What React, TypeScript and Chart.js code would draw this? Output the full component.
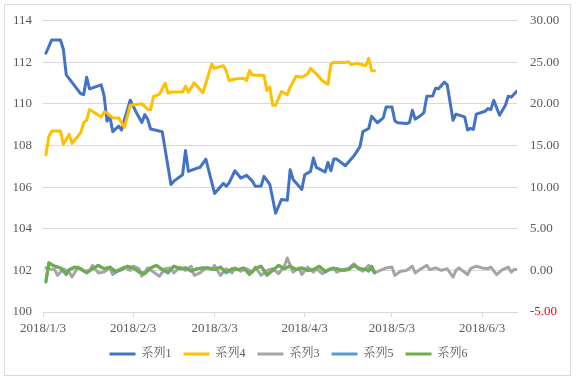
import { useEffect, useRef } from "react";
import { Chart, registerables } from "chart.js";
Chart.register(...registerables);

// x values are day offsets from 2018/1/3
const xTickDays = [0, 31, 59, 90, 120, 151];
const xTickLabels = ["2018/1/3", "2018/2/3", "2018/3/3", "2018/4/3", "2018/5/3", "2018/6/3"];
const xMaxDay = 163;

const leftTicks = [100, 102, 104, 106, 108, 110, 112, 114];
const rightTicks = [-5, 0, 5, 10, 15, 20, 25, 30];

const seriesNames = ["系列1", "系列4", "系列3", "系列5", "系列6"];
const seriesColors = ["#4472C4", "#FFC000", "#A5A5A5", "#5B9BD5", "#70AD47"];

const s1Days = [1, 3, 6, 7, 8, 13, 14, 15, 16, 20, 21, 22, 23, 24, 26, 27, 30, 32, 34, 35, 36, 37, 40, 41, 44, 45, 48, 49, 50, 53, 54, 56, 59, 62, 63, 64, 66, 68, 70, 72, 73, 75, 76, 78, 80, 82, 84, 85, 86, 89, 90, 92, 93, 94, 97, 98, 99, 100, 101, 104, 107, 109, 110, 112, 113, 115, 117, 118, 120, 121, 122, 125, 126, 127, 128, 130, 131, 132, 134, 135, 136, 138, 139, 141, 142, 145, 146, 147, 148, 149, 152, 153, 154, 155, 157, 159, 160, 161, 163];
const s1Vals = [112.44, 113.08, 113.08, 112.63, 111.4, 110.49, 110.46, 111.29, 110.73, 110.92, 110.41, 109.18, 109.38, 108.67, 108.94, 108.75, 110.18, 109.62, 109.11, 109.49, 109.27, 108.8, 108.7, 108.67, 106.13, 106.29, 106.6, 107.76, 106.76, 106.92, 106.95, 107.35, 105.7, 106.18, 106.05, 106.21, 106.79, 106.44, 106.57, 106.29, 106.05, 106.06, 106.52, 106.13, 104.75, 105.41, 105.37, 106.84, 106.37, 105.89, 106.6, 106.76, 107.4, 106.95, 106.73, 107.19, 106.79, 107.35, 107.35, 107.03, 107.52, 107.95, 108.67, 108.82, 109.41, 109.1, 109.33, 109.86, 109.86, 109.18, 109.1, 109.06, 109.11, 109.7, 109.27, 109.46, 109.59, 110.37, 110.38, 110.76, 110.73, 111.05, 110.92, 109.22, 109.51, 109.38, 108.75, 108.83, 108.78, 109.51, 109.65, 109.78, 109.73, 110.18, 109.46, 109.94, 110.37, 110.33, 110.62];

const s4Days = [1, 2, 3, 6, 7, 9, 10, 13, 14, 15, 16, 20, 21, 22, 24, 26, 28, 30, 34, 36, 37, 38, 40, 42, 43, 44, 48, 49, 50, 52, 55, 58, 59, 62, 63, 64, 66, 69, 70, 71, 72, 76, 77, 78, 79, 80, 82, 84, 85, 87, 89, 91, 92, 94, 96, 98, 99, 100, 104, 105, 106, 108, 111, 112, 113, 114];
const s4Vals = [13.89, 16.07, 16.75, 16.75, 15.15, 16.35, 15.27, 16.58, 17.77, 18.06, 19.33, 18.45, 19.05, 18.93, 18.33, 18.33, 17.18, 19.85, 20.04, 19.37, 19.33, 20.92, 21.15, 22.5, 21.31, 21.43, 21.43, 22.14, 21.43, 22.54, 21.35, 24.8, 24.29, 24.6, 24.01, 22.82, 23.01, 23.1, 22.82, 24.01, 23.49, 23.42, 21.63, 22.02, 19.85, 19.85, 21.51, 21.11, 22.02, 23.33, 23.21, 23.61, 24.29, 23.61, 22.82, 22.35, 24.8, 25.0, 25.0, 25.08, 24.73, 24.88, 24.6, 25.48, 24.01, 24.01];

const s3Days = [1, 2, 4, 5, 7, 9, 10, 12, 14, 16, 17, 19, 21, 23, 24, 26, 28, 30, 31, 33, 34, 36, 38, 40, 42, 44, 45, 47, 49, 51, 52, 54, 56, 58, 59, 61, 63, 65, 66, 68, 70, 72, 73, 75, 77, 79, 81, 83, 84, 86, 88, 89, 91, 93, 94, 96, 98, 100, 101, 103, 105, 107, 108, 110, 112, 114, 116, 118, 120, 121, 123, 125, 127, 128, 130, 132, 133, 135, 137, 139, 141, 142, 143, 146, 147, 149, 151, 153, 154, 156, 158, 160, 161, 162, 163];
const s3Vals = [0.3, 0.2, 0.1, -0.6, 0.2, -0.2, -0.8, 0.4, -0.1, 0.0, 0.6, -0.3, -0.2, 0.3, -0.5, 0.1, 0.4, 0.0, 0.5, 0.2, -0.7, 0.3, -0.2, -0.7, 0.2, 0.3, -0.3, 0.4, 0.0, 0.5, -0.6, -0.3, 0.3, 0.1, 0.6, -0.6, 0.2, -0.3, 0.3, -0.1, 0.2, -0.2, 0.4, -0.6, 0.0, 0.2, -0.4, 0.5, 1.5, -0.2, 0.3, -0.5, 0.4, -0.2, 0.2, -0.4, 0.0, 0.3, -0.2, 0.1, 0.2, 0.8, 0.3, -0.1, 0.6, -0.3, 0.0, 0.3, 0.4, -0.6, -0.1, 0.0, 0.5, -0.3, 0.2, 0.6, 0.1, 0.3, 0.0, 0.2, -0.8, 0.0, 0.3, -0.5, 0.2, 0.5, 0.3, 0.2, 0.4, -0.5, 0.1, 0.4, -0.2, 0.1, 0.1];

const s6Days = [1, 2, 4, 6, 8, 9, 11, 13, 15, 17, 19, 21, 23, 25, 27, 29, 31, 33, 35, 37, 39, 41, 43, 45, 47, 49, 51, 53, 55, 57, 59, 61, 63, 65, 67, 69, 71, 73, 75, 77, 79, 81, 83, 85, 87, 89, 91, 93, 95, 97, 99, 101, 103, 105, 107, 109, 111, 112, 113, 114];
const s6Vals = [-1.3, 0.9, 0.5, 0.3, -0.4, 0.1, 0.4, 0.2, -0.3, 0.2, 0.6, 0.2, 0.4, -0.1, 0.1, 0.5, 0.3, -0.2, -0.4, 0.3, 0.6, 0.1, -0.2, 0.5, 0.2, 0.3, -0.1, 0.2, 0.3, 0.3, 0.1, 0.4, -0.2, 0.2, 0.1, 0.3, -0.4, 0.2, 0.5, -0.5, 0.0, 0.6, 0.2, 0.5, 0.1, 0.3, 0.0, 0.1, 0.5, -0.1, 0.2, 0.2, 0.0, 0.1, 0.6, 0.2, 0.1, 0.0, 0.5, -0.2];
const s5Vals = [-1.4, 0.9, 0.5, 0.3, -0.5, 0.1, 0.4, 0.2, -0.3, 0.2, 0.6, 0.2, 0.4, -0.2, 0.1, 0.5, 0.3, -0.2, -0.4, 0.3, 0.6, 0.1, -0.3, 0.5, 0.2, 0.3, -0.1, 0.2, 0.3, 0.3, 0.1, 0.4, -0.3, 0.2, 0.1, 0.3, -0.5, 0.2, 0.5, -0.6, 0.0, 0.6, 0.2, 0.5, 0.1, 0.3, 0.0, 0.1, 0.5, -0.2, 0.2, 0.2, 0.0, 0.1, 0.6, 0.2, 0.1, -0.1, 0.5, -0.3];

const pts = (days: number[], vals: number[]) => days.map((d, i) => ({ x: d, y: vals[i] }));

const FONT = "'Liberation Serif', 'Noto Serif CJK JP', 'Noto Sans CJK JP', serif";
const TEXT = "#595959";
const GRID = "#D9D9D9";

const frame = {
  id: "frame",
  beforeDraw(chart: any) {
    const c = chart.ctx;
    c.save();
    c.fillStyle = "#FFFFFF";
    c.fillRect(0, 0, chart.width, chart.height);
    c.strokeStyle = GRID;
    c.lineWidth = 1;
    c.strokeRect(4.5, 4.5, 566, 371);
    c.restore();
  },
};

export default function App() {
  const ref = useRef<HTMLCanvasElement>(null);
  useEffect(() => {
    document.body.style.margin = "0";
    const data = [
      { d: s1Days, v: s1Vals, axis: "y", order: 4 },
      { d: s4Days, v: s4Vals, axis: "y1", order: 3 },
      { d: s3Days, v: s3Vals, axis: "y1", order: 2 },
      { d: s6Days, v: s5Vals, axis: "y1", order: 1 },
      { d: s6Days, v: s6Vals, axis: "y1", order: 0 },
    ];
    const chart = new Chart(ref.current as HTMLCanvasElement, {
      type: "line",
      data: {
        datasets: data.map((s, i) => ({
          label: seriesNames[i],
          data: pts(s.d, s.v),
          yAxisID: s.axis,
          order: s.order,
          borderColor: seriesColors[i],
          backgroundColor: seriesColors[i],
          borderWidth: 3,
          pointRadius: 0,
          tension: 0,
          borderJoinStyle: "round",
          borderCapStyle: "round",
        })),
      },
      options: {
        animation: false,
        responsive: false,
        layout: { padding: { top: 18, left: 0, right: 0, bottom: 11 } },
        plugins: {
          tooltip: { enabled: false },
          legend: {
            position: "bottom",
            labels: {
              boxWidth: 26,
              boxHeight: 3,
              padding: 12,
              color: TEXT,
              font: { family: FONT, size: 12 },
              generateLabels: (ch: any) =>
                ch.data.datasets.map((ds: any, i: number) => ({
                  text: ds.label,
                  fillStyle: ds.borderColor,
                  strokeStyle: ds.borderColor,
                  lineWidth: 0,
                  hidden: false,
                  datasetIndex: i,
                  fontColor: TEXT,
                })),
            },
          },
        },
        scales: {
          x: {
            type: "linear",
            min: 0,
            max: xMaxDay,
            grid: { drawOnChartArea: false, drawTicks: true, tickLength: 5, color: GRID },
            border: { display: true, color: GRID },
            ticks: {
              autoSkip: false,
              maxRotation: 0,
              padding: 4,
              color: TEXT,
              font: { family: FONT, size: 13 },
              callback: (v: any) => {
                const i = xTickDays.indexOf(Number(v));
                return i >= 0 ? xTickLabels[i] : "";
              },
            },
            afterBuildTicks: (axis: any) => {
              axis.ticks = xTickDays.map((v) => ({ value: v }));
            },
            afterFit: (axis: any) => {
              axis.height = 24;
            },
          },
          y: {
            position: "left",
            min: leftTicks[0],
            max: leftTicks[leftTicks.length - 1],
            grid: { color: GRID, drawTicks: false },
            border: { display: false },
            ticks: {
              stepSize: 2,
              padding: 11,
              color: TEXT,
              font: { family: FONT, size: 13 },
            },
            afterBuildTicks: (axis: any) => {
              axis.ticks = leftTicks.map((v) => ({ value: v }));
            },
            afterFit: (axis: any) => {
              axis.width = 43;
            },
          },
          y1: {
            position: "right",
            min: rightTicks[0],
            max: rightTicks[rightTicks.length - 1],
            grid: { drawOnChartArea: false, drawTicks: false },
            border: { display: false },
            ticks: {
              stepSize: 5,
              padding: 13,
              color: (ctx: any) => (ctx.tick && ctx.tick.value < 0 ? "#FF0000" : TEXT),
              font: { family: FONT, size: 13 },
              callback: (v: any) => Number(v).toFixed(2),
            },
            afterBuildTicks: (axis: any) => {
              axis.ticks = rightTicks.map((v) => ({ value: v }));
            },
            afterFit: (axis: any) => {
              axis.width = 60;
            },
          },
        },
      },
      plugins: [frame],
    } as any);
    return () => chart.destroy();
  }, []);
  return <canvas ref={ref} width={577} height={381} style={{ display: "block", width: 577, height: 381 }} />;
}
